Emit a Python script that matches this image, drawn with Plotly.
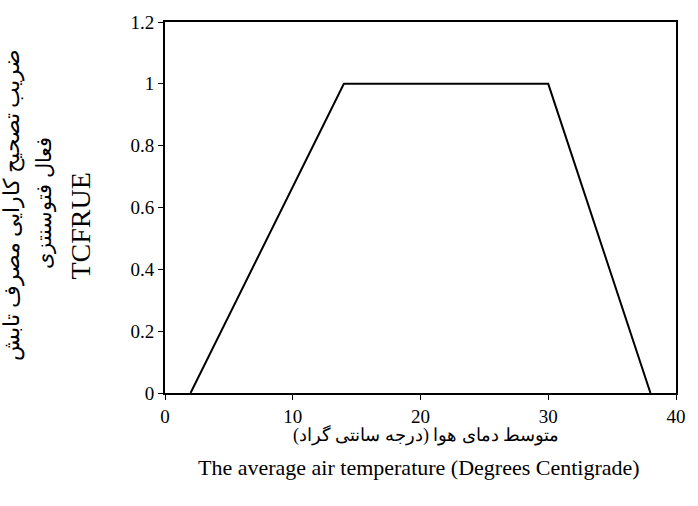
import plotly.graph_objects as go

temps = [2, 14, 30, 38]
tcfrue = [0, 1, 1, 0]
x_ticks = [0, 10, 20, 30, 40]
y_ticks = [0, 0.2, 0.4, 0.6, 0.8, 1, 1.2]
y_tick_text = ["0", "0.2", "0.4", "0.6", "0.8", "1", "1.2"]

fig = go.Figure()
fig.add_trace(go.Scatter(x=temps, y=tcfrue, mode="lines",
                         line=dict(color="black", width=2), showlegend=False))

font = "Liberation Serif"
tf = dict(family=font, size=19, color="black")
fig.update_layout(
    width=698, height=506,
    margin=dict(l=165, r=14, t=17, b=113),
    paper_bgcolor="white", plot_bgcolor="white",
    font=dict(family=font, size=19, color="black"),
    xaxis=dict(range=[0, 40], tickvals=x_ticks, ticks="outside", ticklen=5,
               tickwidth=1, tickcolor="black", showline=True, linecolor="black",
               linewidth=2, mirror=True, showgrid=False, zeroline=False,
               tickfont=tf),
    yaxis=dict(range=[0, 1.2], tickvals=y_ticks, ticktext=y_tick_text,
               ticks="outside", ticklen=5, tickwidth=1, tickcolor="black",
               showline=True, linecolor="black", linewidth=2, mirror=True,
               showgrid=False, zeroline=False, tickfont=tf),
)

anns = [
    dict(text="ضریب تصحیح کارایی مصرف تابش", xshift=-154, yshift=3, size=22),
    dict(text="فعال فتوسنتزی", xshift=-121, yshift=4, size=21),
    dict(text="TCFRUE", xshift=-85, yshift=-19, size=28),
]
for a in anns:
    fig.add_annotation(text=a["text"], xref="paper", yref="paper", x=0, y=0.5,
                       xanchor="center", yanchor="middle",
                       xshift=a["xshift"], yshift=a["yshift"], textangle=-90,
                       showarrow=False, font=dict(family=font, size=a["size"], color="black"))

fig.add_annotation(text="متوسط دمای هوا (درجه سانتی گراد)", xref="paper", yref="paper",
                   x=0.5, y=0, yshift=-42, xshift=6, xanchor="center", yanchor="middle",
                   showarrow=False, font=dict(family=font, size=18, color="black"))
fig.add_annotation(text="The average air temperature (Degrees Centigrade)", xref="paper",
                   yref="paper", x=0.5, y=0, yshift=-74, xshift=-2, xanchor="center",
                   yanchor="middle", showarrow=False,
                   font=dict(family=font, size=22, color="black"))

fig.write_html("out.html", config={"displayModeBar": False})
with open("out.html", encoding="utf-8") as f:
    html = f.read()
html = html.replace("<body>", '<body style="margin:0;padding:0;overflow:hidden">', 1)
with open("out.html", "w", encoding="utf-8") as f:
    f.write(html)
